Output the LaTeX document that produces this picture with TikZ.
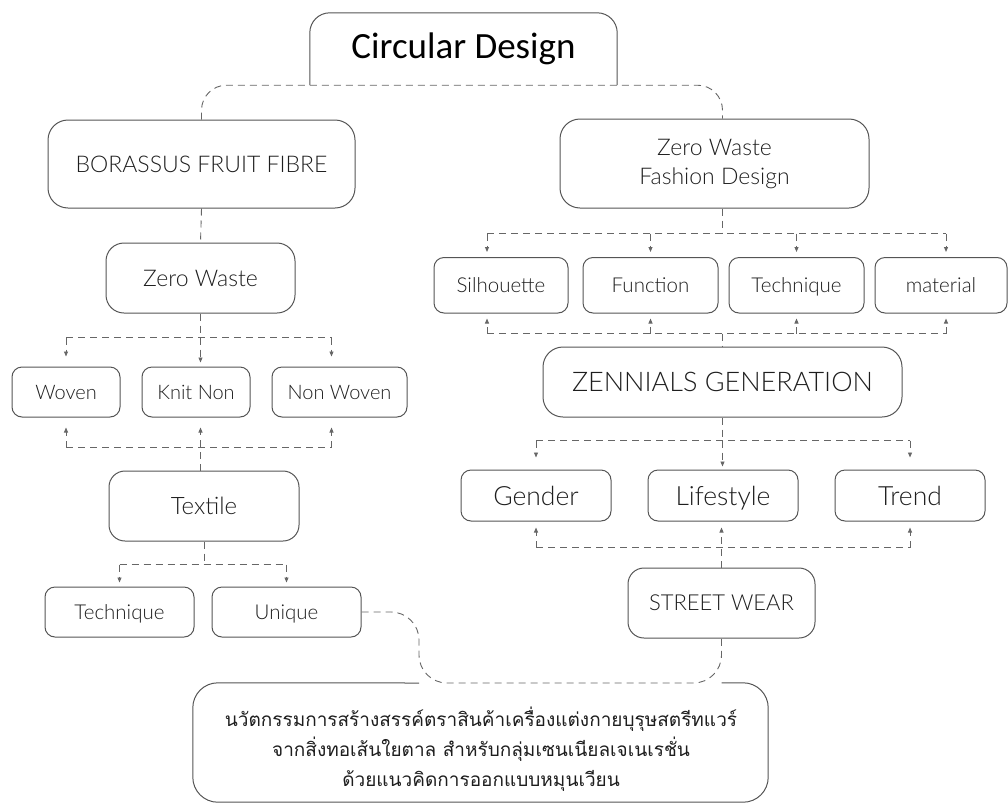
\documentclass[tikz,border=0pt]{standalone}
\usepackage{fontspec}
\IfFontExistsTF{Lato Light}{\setmainfont{Lato Light}}{\setmainfont{Lato}}
\newfontfamily\cdfont{Carlito}
\newfontfamily\thaifont[Script=Thai]{Loma}
\usetikzlibrary{arrows.meta,calc}
\definecolor{boxc}{HTML}{555555}
\definecolor{txtc}{HTML}{1E1E1E}
\definecolor{lnc}{HTML}{666666}
\newcommand{\fsz}[1]{\fontsize{#1}{#1}\selectfont}
\begin{document}
\begin{tikzpicture}[x=1pt,y=-1pt,
  boxm/.style={draw=boxc, line width=1pt, rounded corners=10pt, align=center, text=txtc, inner sep=0pt},
  box/.style={boxm, text depth=0pt},
  boxline/.style={draw=boxc, line width=1pt},
  conn/.style={draw=lnc, line width=0.9pt, dash pattern=on 7pt off 5pt},
  arr/.style={-{Triangle[length=5pt,width=4pt]}}]
\useasboundingbox (0,0) rectangle (1008,806);

% nodes
\node[font=\cdfont\fsz{37}, text=black, minimum width=307pt, minimum height=72pt, inner sep=0pt] (cd) at (463.5,49) {Circular Design};
\node[box, text height=16.6pt, rounded corners=20pt, minimum width=307pt, minimum height=88pt, font=\fsz{23}] (bff) at (201.5,164) {BORASSUS FRUIT FIBRE};
\node[boxm, rounded corners=20pt, minimum width=309pt, minimum height=89pt, font=\fontsize{23}{29}\selectfont] (zwfd) at (714.5,163.5) {Zero Waste\\Fashion Design};
\node[box, text height=16.6pt, rounded corners=18pt, minimum width=189pt, minimum height=70pt, font=\fsz{23}] (zw) at (200.5,278) {Zero Waste};
\node[box, text height=14.4pt, minimum width=108pt, minimum height=50pt, font=\fsz{20}] (woven) at (66,392) {Woven};
\node[box, text height=14.4pt, minimum width=108pt, minimum height=50pt, font=\fsz{20}] (knit) at (196,392) {Knit Non};
\node[box, text height=14.4pt, minimum width=135pt, minimum height=50pt, font=\fsz{20}] (nonwoven) at (339.5,392) {Non Woven};
\node[box, text height=17.3pt, rounded corners=16pt, minimum width=190pt, minimum height=70pt, font=\fsz{24}] (textile) at (204,506) {Textile};
\node[box, text height=14.8pt, minimum width=149pt, minimum height=50pt, font=\fsz{20.5}] (tech1) at (119.5,612) {Technique};
\node[box, text height=14.8pt, minimum width=149pt, minimum height=50pt, font=\fsz{20.5}] (unique) at (286.5,612) {Unique};
\node[box, text height=14.8pt, minimum width=134pt, minimum height=55.5pt, font=\fsz{20.5}] (sil) at (501,285.25) {Silhouette};
\node[box, text height=14.8pt, minimum width=135pt, minimum height=55.5pt, font=\fsz{20.5}] (func) at (650.5,285.25) {Function};
\node[box, text height=14.8pt, minimum width=135pt, minimum height=55.5pt, font=\fsz{20.5}] (tech2) at (796.5,285.25) {Technique};
\node[box, text height=14.8pt, minimum width=132pt, minimum height=55.5pt, font=\fsz{20.5}] (mat) at (941,285.25) {material};
\node[box, text height=19.4pt, rounded corners=20pt, minimum width=359pt, minimum height=70pt, font=\fsz{27}] (zen) at (722.5,382) {ZENNIALS GENERATION};
\node[box, text height=19.1pt, minimum width=150pt, minimum height=51pt, font=\fsz{26.5}] (gender) at (536,495.5) {Gender};
\node[box, text height=19.1pt, minimum width=150pt, minimum height=51pt, font=\fsz{26.5}] (life) at (723,495.5) {Lifestyle};
\node[box, text height=19.1pt, minimum width=150pt, minimum height=51pt, font=\fsz{26.5}] (trend) at (910,495.5) {Trend};
\node[box, text height=15.8pt, rounded corners=16pt, minimum width=187pt, minimum height=70pt, font=\fsz{22}] (street) at (721.5,603) {STREET WEAR};
\node[minimum width=575pt, minimum height=119pt, inner sep=0pt] (thai) at (480.5,742.5) {};
\node[align=center, text=txtc, font=\thaifont\fontsize{19}{30}\selectfont, inner sep=0pt] (thaitext) at (481,749) {นวัตกรรมการสร้างสรรค์ตราสินค้าเครื่องแต่งกายบุรุษสตรีทแวร์\\จากสิ่งทอเส้นใยตาล สำหรับกลุ่มเซนเนียลเจเนเรชั่น\\ด้วยแนวคิดการออกแบบหมุนเวียน};

% top box outline
\draw[boxline, rounded corners=20pt] (cd.south west) -- (cd.north west) -- (cd.north east) -- (cd.south east);
\coordinate (zwin) at ($(zwfd.north)+(8,0)$);
\draw[conn, rounded corners=25pt] (bff.north) |- (cd.south) -| (zwin);

% left column
\draw[conn] (bff.south) -- (zw.north);
\path (zw.south) ++(0,24) coordinate (l1);
\coordinate (nwx) at ($(nonwoven.north)+(-8,0)$);
\draw[conn] (zw.south) -- (l1);
\draw[conn] (woven.north |- l1) -- (nwx |- l1);
\draw[conn,arr,shorten >=10pt] (woven.north |- l1) -- (woven.north);
\draw[conn,arr,shorten >=4pt] (l1) -- (l1 |- knit.north);
\draw[conn,arr,shorten >=10pt] (nwx |- l1) -- (nwx);
\path (zw.south) ++(0,134) coordinate (l2);
\draw[conn] (woven.south |- l2) -- (nwx |- l2);
\draw[conn,arr,shorten >=10pt] (woven.south |- l2) -- (woven.south);
\draw[conn,arr,shorten >=10pt] (nwx |- l2) -- (nwx |- nonwoven.south);
\draw[conn,arr,shorten >=10pt] (l2 |- textile.north) -- (l2 |- knit.south);
\path (textile.south) ++(0,23) coordinate (l3);
\draw[conn] (textile.south) -- (l3);
\draw[conn] (tech1.north |- l3) -- (unique.north |- l3);
\draw[conn,arr,shorten >=4pt] (tech1.north |- l3) -- (tech1.north);
\draw[conn,arr,shorten >=4pt] (unique.north |- l3) -- (unique.north);

% right column
\path (zwin |- zwfd.south) ++(0,25) coordinate (r1);
\coordinate (silx) at ($(sil.north)+(-14,0)$);
\coordinate (matx) at ($(mat.north)+(5,0)$);
\draw[conn] (zwin |- zwfd.south) -- (r1);
\draw[conn] (silx |- r1) -- (matx |- r1);
\draw[conn,arr,shorten >=5pt] (silx |- r1) -- (silx);
\draw[conn,arr,shorten >=5pt] (func.north |- r1) -- (func.north);
\draw[conn,arr,shorten >=5pt] (tech2.north |- r1) -- (tech2.north);
\draw[conn,arr,shorten >=5pt] (matx |- r1) -- (matx);
\path (r1) ++(0,100) coordinate (r2);
\draw[conn] (silx |- r2) -- (matx |- r2);
\draw[conn,arr,shorten >=5pt] (silx |- r2) -- (silx |- sil.south);
\draw[conn,arr,shorten >=5pt] (func.south |- r2) -- (func.south);
\draw[conn,arr,shorten >=5pt] (tech2.south |- r2) -- (tech2.south);
\draw[conn,arr,shorten >=5pt] (matx |- r2) -- (matx |- mat.south);
\draw[conn] (r2) -- (zen.north);

\path (zen.south) ++(0,23) coordinate (r3);
\draw[conn] (zen.south) -- (r3);
\draw[conn] (gender.north |- r3) -- (trend.north |- r3);
\draw[conn,arr,shorten >=12pt] (gender.north |- r3) -- (gender.north);
\draw[conn,arr,shorten >=3pt] (r3) -- (r3 |- life.north);
\draw[conn,arr,shorten >=12pt] (trend.north |- r3) -- (trend.north);
\path (r3) ++(0,107) coordinate (r4);
\draw[conn] (gender.south |- r4) -- (trend.south |- r4);
\draw[conn,arr,shorten >=6pt] (gender.south |- r4) -- (gender.south);
\draw[conn,arr,shorten >=6pt] (trend.south |- r4) -- (trend.south);
\draw[conn,arr,shorten >=6pt] (street.north) -- (street.north |- life.south);

% bottom connector and box
\coordinate (bend) at (419,683);
\draw[conn, rounded corners=28pt] (unique.east) -| (bend) -| (street.south);
\draw[boxline, rounded corners=25pt] (bend) -- (thai.north west) -- (thai.south west) -- (thai.south east) -- (thai.north east) -- (street.south |- thai.north);
\end{tikzpicture}
\end{document}
